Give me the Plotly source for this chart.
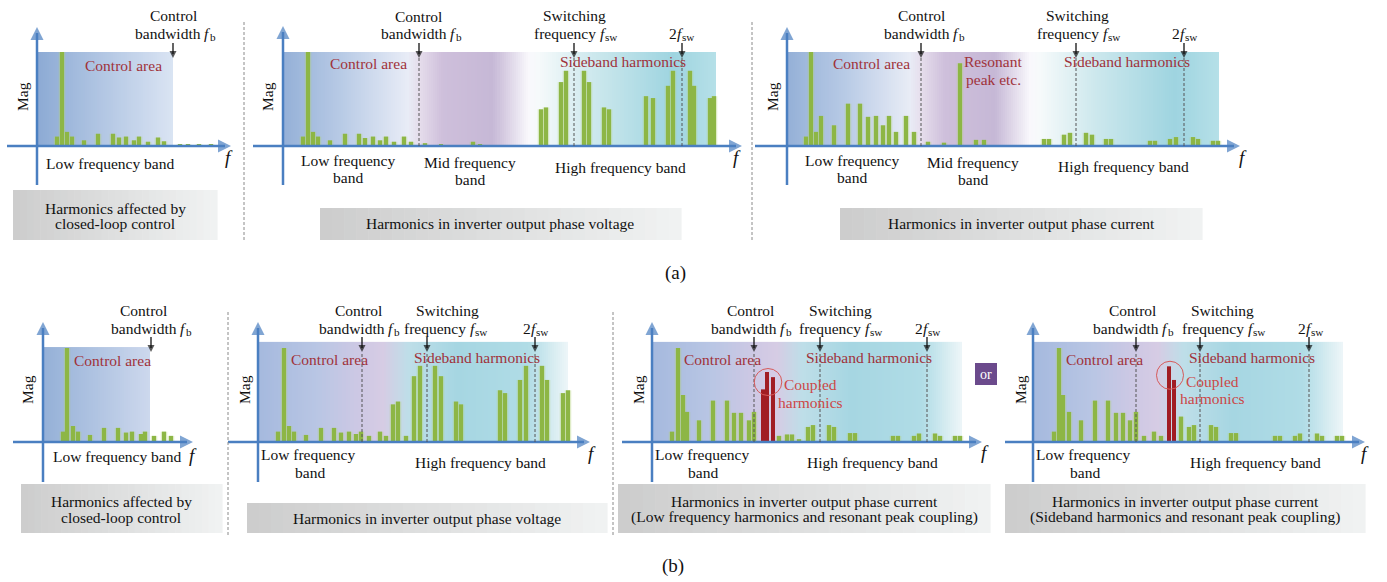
import numpy as np
import plotly.graph_objects as go

W, H = 1387, 582
U = 94.0  # pixels per unit of magnitude (fundamental = 1)
FONT = "Times New Roman, Liberation Serif, serif"

# ---------------- data ----------------
# frequency: arbitrary units measured from the Mag axis; magnitude: relative to the fundamental
a1_freq = [20, 25, 30, 35, 47, 61, 76, 82, 89, 97, 102, 111, 121, 127, 143, 151, 162, 174]
a1_mag = [0.10, 1.0, 0.15, 0.10, 0.06, 0.13, 0.13, 0.09, 0.10, 0.06, 0.10, 0.045, 0.09, 0.05,
          0.02, 0.02, 0.02, 0.02]
a1_marks = [136]

a2_freq = [20, 25, 30, 35, 47, 62, 76, 82, 90, 97, 103, 111, 121, 128, 142, 158, 190, 197,
           258, 263, 278, 283, 301, 306, 321, 326, 363, 370, 385, 390, 407, 411, 427, 431]
a2_mag = [0.10, 1.0, 0.15, 0.10, 0.06, 0.13, 0.13, 0.085, 0.10, 0.06, 0.10, 0.045, 0.10, 0.045,
          0.03, 0.015, 0.045, 0.02,
          0.39, 0.41, 0.68, 0.80, 0.80, 0.68, 0.41, 0.39, 0.53, 0.51, 0.64, 0.80, 0.80, 0.64, 0.51, 0.53]
a2_marks = [136, 291, 399]

a3_freq = [19, 24, 29, 34, 47, 61, 73, 81, 89, 96, 102, 109, 119, 127, 141, 157, 173, 189, 197,
           257, 262, 277, 283, 299, 305, 319, 324, 363, 368, 383, 389, 406, 411, 426, 431]
a3_mag = [0.10, 1.0, 0.15, 0.32, 0.22, 0.45, 0.45, 0.31, 0.32, 0.22, 0.32, 0.15, 0.32, 0.15,
          0.045, 0.035, 0.88, 0.065, 0.065,
          0.075, 0.075, 0.12, 0.14, 0.14, 0.12, 0.075, 0.075, 0.055, 0.055, 0.075, 0.095, 0.095,
          0.075, 0.055, 0.055]
a3_marks = [134, 289, 397]

b1_freq = [20, 24, 30, 35, 47, 61, 75, 83, 89, 98, 102, 111, 121, 128]
b1_mag = [0.11, 1.0, 0.17, 0.11, 0.075, 0.15, 0.15, 0.10, 0.11, 0.085, 0.11, 0.065, 0.11, 0.065]
b1_marks = [108]

b2_freq = [20, 26, 31, 36, 48, 63, 76, 83, 91, 98, 103, 111, 122, 128, 135, 140, 148,
           156, 162, 177, 183, 198, 203, 242, 247, 262, 268, 284, 289, 305, 310]
b2_mag = [0.11, 1.0, 0.17, 0.11, 0.075, 0.15, 0.15, 0.10, 0.11, 0.085, 0.11, 0.065, 0.11, 0.065,
          0.40, 0.43, 0.065, 0.70, 0.81, 0.81, 0.70, 0.43, 0.40, 0.55, 0.52, 0.66, 0.81, 0.81,
          0.66, 0.52, 0.55]
b2_marks = [104, 169, 277]

b3_freq = [20, 26, 31, 35, 47, 61, 75, 82, 89, 97, 102, 127, 135, 140, 147,
           156, 161, 177, 182, 198, 203, 241, 246, 262, 267, 283, 288, 303, 308]
b3_mag = [0.11, 1.0, 0.50, 0.32, 0.23, 0.44, 0.44, 0.31, 0.31, 0.23, 0.32, 0.065, 0.08, 0.08,
          0.03, 0.16, 0.18, 0.18, 0.16, 0.095, 0.095, 0.065, 0.065, 0.065, 0.09, 0.09, 0.065,
          0.065, 0.065]
b3_coupled_freq = [111, 115, 121]
b3_coupled_mag = [0.56, 0.745, 0.69]
b3_marks = [102, 168, 275]

b4_freq = [21, 26, 30, 36, 48, 62, 75, 83, 90, 97, 103, 111, 121, 128, 148, 156, 161, 178, 183,
           198, 203, 242, 247, 262, 267, 284, 289, 304, 309]
b4_mag = [0.11, 1.0, 0.50, 0.32, 0.23, 0.44, 0.44, 0.31, 0.31, 0.23, 0.32, 0.065, 0.11, 0.065,
          0.27, 0.16, 0.18, 0.18, 0.16, 0.095, 0.095, 0.065, 0.065, 0.065, 0.09, 0.09, 0.065,
          0.065, 0.065]
b4_coupled_freq = [136, 141]
b4_coupled_mag = [0.805, 0.66]
b4_marks = [103, 167, 276]

# ---------------- styles / layout geometry ----------------
BLUE = '#4a7fc1'
GREEN = '#8db645'
GLOW = 'rgba(175,208,115,0.40)'
RED_BAR = '#a11d23'
LABEL_RED = '#a0323a'
COUPLED_RED = '#cc4747'

stops_a1 = [(0, (140, 170, 212)), (60, (175, 196, 226)), (136, (218, 228, 243))]
stops_a2 = [(0, (148, 176, 215)), (60, (185, 203, 230)), (125, (232, 236, 246)),
            (136, (230, 222, 236)), (160, (206, 191, 219)), (210, (198, 184, 214)),
            (245, (249, 248, 252)), (255, (246, 250, 251)), (310, (205, 232, 237)),
            (390, (158, 212, 224)), (433, (182, 224, 232))]
stops_a3 = [(0, (148, 176, 215)), (60, (185, 203, 230)), (123, (232, 236, 246)),
            (134, (230, 222, 236)), (158, (206, 191, 219)), (208, (198, 184, 214)),
            (243, (249, 248, 252)), (253, (246, 250, 251)), (308, (205, 232, 237)),
            (388, (158, 212, 224)), (432, (182, 224, 232))]
stops_b1 = [(0, (148, 176, 215)), (107, (205, 216, 237))]
stops_b = [(0, (165, 185, 222)), (60, (185, 198, 228)), (100, (205, 200, 228)),
           (125, (214, 204, 228)), (150, (190, 222, 232)), (200, (166, 214, 226)),
           (270, (176, 220, 230)), (310, (238, 246, 248))]

panels = [
    dict(ox=37, oy=146, xl=7, xt=231, yt=27, yb=185, sr=136, st=1.0, freq=a1_freq, mag=a1_mag,
         cf=[], cm=[], marks=a1_marks, dashed=False, stops=stops_a1, row='a'),
    dict(ox=283, oy=146, xl=253, xt=742, yt=26, yb=185, sr=433, st=1.0, freq=a2_freq, mag=a2_mag,
         cf=[], cm=[], marks=a2_marks, dashed=True, stops=stops_a2, row='a'),
    dict(ox=787, oy=146, xl=755, xt=1240, yt=27, yb=185, sr=432, st=1.0, freq=a3_freq, mag=a3_mag,
         cf=[], cm=[], marks=a3_marks, dashed=True, stops=stops_a3, row='a'),
    dict(ox=43, oy=442, xl=13, xt=193, yt=322, yb=482, sr=107, st=1.01, freq=b1_freq, mag=b1_mag,
         cf=[], cm=[], marks=b1_marks, dashed=False, stops=stops_b1, row='b'),
    dict(ox=258, oy=442, xl=228, xt=590, yt=322, yb=482, sr=310, st=1.065, freq=b2_freq, mag=b2_mag,
         cf=[], cm=[], marks=b2_marks, dashed=True, stops=stops_b, row='b'),
    dict(ox=652, oy=442, xl=622, xt=982, yt=322, yb=482, sr=310, st=1.065, freq=b3_freq, mag=b3_mag,
         cf=b3_coupled_freq, cm=b3_coupled_mag, marks=b3_marks, dashed=True, stops=stops_b, row='b'),
    dict(ox=1033, oy=442, xl=1005, xt=1365, yt=322, yb=482, sr=310, st=1.065, freq=b4_freq, mag=b4_mag,
         cf=b4_coupled_freq, cm=b4_coupled_mag, marks=b4_marks, dashed=True, stops=stops_b, row='b'),
]
ARROW_PX = {'a': (43, 58), 'b': (337, 352)}
HEAD = 13      # blue axis arrowhead size (px)
SMALL = 7      # black marker arrowhead size (px)


def interp_colors(stops, xs):
    sx = [s[0] for s in stops]
    out = []
    for x in xs:
        c = [np.interp(x, sx, [s[1][j] for s in stops]) for j in range(3)]
        out.append('rgb(%d,%d,%d)' % tuple(int(round(v)) for v in c))
    return out


fig = go.Figure()
axes = {}
annotations = []
shapes = []

for i, p in enumerate(panels):
    k = '' if i == 0 else str(i + 1)
    xa, ya = 'x' + k, 'y' + k
    axes['xaxis' + k] = dict(domain=[0, 1], range=[-p['ox'], W - p['ox']], visible=False,
                             fixedrange=True, anchor=ya)
    axes['yaxis' + k] = dict(domain=[0, 1], range=[-(H - p['oy']) / U, p['oy'] / U], visible=False,
                             fixedrange=True, anchor=xa)
    # gradient band
    n = int(p['sr'] / 2)
    edges = np.linspace(0, p['sr'], n + 1)
    centers = (edges[:-1] + edges[1:]) / 2
    cols = interp_colors(p['stops'], centers)
    cs = [[j / (n - 1), c] for j, c in enumerate(cols)]
    fig.add_trace(go.Heatmap(x=edges, y=[0, p['st']], z=[list(range(n))], zmin=0, zmax=n - 1,
                             colorscale=cs, showscale=False, hoverinfo='skip', xaxis=xa, yaxis=ya))
    # harmonic bars
    fig.add_trace(go.Bar(x=p['freq'], y=p['mag'], width=6.5, marker=dict(color=GLOW, line_width=0),
                         hoverinfo='skip', xaxis=xa, yaxis=ya))
    fig.add_trace(go.Bar(x=p['freq'], y=p['mag'], width=4, marker=dict(color=GREEN, line_width=0),
                         hoverinfo='skip', xaxis=xa, yaxis=ya))
    if p['cf']:
        fig.add_trace(go.Bar(x=p['cf'], y=p['cm'], width=4, marker=dict(color=RED_BAR, line_width=0),
                             hoverinfo='skip', xaxis=xa, yaxis=ya))
    # axis lines
    y_top = (p['oy'] - p['yt']) / U
    shapes.append(dict(type='line', xref=xa, yref=ya, x0=0, x1=0, y0=-(p['yb'] - p['oy']) / U,
                       y1=y_top - 6 / U, line=dict(color=BLUE, width=2.5)))
    x_tip = p['xt'] - p['ox']
    shapes.append(dict(type='line', xref=xa, yref=ya, x0=p['xl'] - p['ox'], x1=x_tip - 6, y0=0, y1=0,
                       line=dict(color=BLUE, width=2.5)))
    hx, hy, hs, hc, hz = [0, x_tip], [y_top, 0], ['arrow-up', 'arrow-right'], [BLUE, BLUE], [HEAD, HEAD]
    # frequency markers (fb, fsw, 2fsw)
    s_px, t_px = ARROW_PX[p['row']]
    y_tip = (p['oy'] - t_px) / U
    for f in p['marks']:
        if p['dashed']:
            shapes.append(dict(type='line', xref=xa, yref=ya, x0=f, x1=f, y0=0, y1=y_tip,
                               line=dict(color='#555555', width=1, dash='3px,2px')))
        shapes.append(dict(type='line', xref=xa, yref=ya, x0=f, x1=f, y0=(p['oy'] - s_px) / U,
                           y1=y_tip + 4 / U, line=dict(color='#111111', width=1.3)))
        hx.append(f); hy.append(y_tip); hs.append('arrow-down'); hc.append('#111111'); hz.append(SMALL)
    fig.add_trace(go.Scatter(x=hx, y=hy, mode='markers', hoverinfo='skip', xaxis=xa, yaxis=ya,
                             marker=dict(symbol=hs, color=hc, size=hz, line_width=0)))

# circles around coupled harmonics
shapes.append(dict(type='circle', xref='x6', yref='y6', x0=116 - 13.8, x1=116 + 13.8,
                   y0=0.638 - 13.5 / U, y1=0.638 + 13.5 / U, line=dict(color='#d65a5a', width=1)))
shapes.append(dict(type='circle', xref='x7', yref='y7', x0=137 - 13.5, x1=137 + 13.5,
                   y0=0.71 - 14 / U, y1=0.71 + 14 / U, line=dict(color='#d65a5a', width=1)))


def txt(x, y, s, color='#111111', size=15.5, angle=0, xanchor='center', style='normal'):
    annotations.append(dict(x=x / W, y=1 - y / H, xref='paper', yref='paper', text=s,
                            showarrow=False, borderpad=0,
                            font=dict(family=FONT, size=size, color=color, style=style),
                            xanchor=xanchor, yanchor='middle', textangle=angle))


# Times New Roman advance widths (per 1000 em)
TW = {' ': 250, 'a': 444, 'b': 500, 'c': 444, 'd': 500, 'e': 444, 'f': 333, 'g': 500, 'h': 500,
      'i': 278, 'n': 500, 'q': 500, 'r': 333, 's': 389, 't': 278, 'u': 500, 'w': 722, 'y': 500,
      '2': 500}


def tw(s, size):
    return sum(TW[c] for c in s) * size / 1000.0


def fsub(cx, y, base, sub, size=15.5):
    """text like 'bandwidth f_b': base text + italic f + subscript, centred at cx"""
    ss = size * 0.72
    wb = tw(base, size)
    wf = 278 * size / 1000.0 + 1.2
    ws = tw(sub, ss)
    x0 = cx - (wb + wf + ws) / 2
    if base:
        txt(x0, y, base, xanchor='left', size=size)
    txt(x0 + wb, y, 'f', xanchor='left', size=size, style='italic')
    txt(x0 + wb + wf, y + 4, sub, xanchor='left', size=ss)


def fb(cx, y): fsub(cx, y, 'bandwidth ', 'b')
def fsw(cx, y): fsub(cx, y, 'frequency ', 'sw')
def f2(cx, y): fsub(cx, y, '2', 'sw')


# panel a1
txt(173, 15, 'Control'); fb(174, 33)
txt(123, 65, 'Control area', LABEL_RED)
txt(110, 163, 'Low frequency band')
# panel a2
txt(418, 16, 'Control'); fb(420, 33)
txt(574, 15, 'Switching'); fsw(575, 33); f2(681, 33)
txt(368, 63, 'Control area', LABEL_RED); txt(623, 62, 'Sideband harmonics', LABEL_RED)
txt(348, 160, 'Low frequency'); txt(348, 177, 'band')
txt(470, 162, 'Mid frequency'); txt(470, 179, 'band')
txt(620, 167, 'High frequency band')
# panel a3
txt(921, 15, 'Control'); fb(923, 33)
txt(1077, 15, 'Switching'); fsw(1078, 33); f2(1184, 33)
txt(871, 63, 'Control area', LABEL_RED); txt(1127, 62, 'Sideband harmonics', LABEL_RED)
txt(993, 62, 'Resonant', LABEL_RED); txt(993, 80, 'peak etc.', LABEL_RED)
txt(852, 160, 'Low frequency'); txt(852, 177, 'band')
txt(973, 162, 'Mid frequency'); txt(973, 179, 'band')
txt(1123, 166, 'High frequency band')
# panel b1
txt(143, 310, 'Control'); fb(150, 328)
txt(112, 360, 'Control area', LABEL_RED)
txt(117, 456, 'Low frequency band')
# panel b2
txt(358, 310, 'Control'); fb(358, 328)
txt(447, 310, 'Switching'); fsw(445, 328); f2(535, 328)
txt(329, 359, 'Control area', LABEL_RED); txt(477, 357, 'Sideband harmonics', LABEL_RED)
txt(308, 454, 'Low frequency'); txt(310, 472, 'band')
txt(480, 462, 'High frequency band')
# panel b3
txt(750, 310, 'Control'); fb(750, 328)
txt(840, 310, 'Switching'); fsw(840, 328); f2(927, 328)
txt(722, 359, 'Control area', LABEL_RED); txt(869, 357, 'Sideband harmonics', LABEL_RED)
txt(810, 384, 'Coupled', COUPLED_RED); txt(810, 402, 'harmonics', COUPLED_RED)
txt(702, 454, 'Low frequency'); txt(703, 472, 'band')
txt(872, 462, 'High frequency band')
# panel b4
txt(1132, 310, 'Control'); fb(1132, 328)
txt(1222, 310, 'Switching'); fsw(1223, 328); f2(1310, 328)
txt(1104, 359, 'Control area', LABEL_RED); txt(1252, 357, 'Sideband harmonics', LABEL_RED)
txt(1212, 381, 'Coupled', COUPLED_RED); txt(1212, 398, 'harmonics', COUPLED_RED)
txt(1083, 454, 'Low frequency'); txt(1085, 472, 'band')
txt(1255, 462, 'High frequency band')

# Mag and f labels
for (x, y) in [(23, 97), (268, 97), (773, 97), (28, 390), (245, 390), (639, 390), (1021, 390)]:
    txt(x, y, 'Mag', angle=-90)
for (x, y) in [(229, 158), (737, 158), (1243, 158), (193, 455), (592, 453), (985, 452), (1365, 453)]:
    txt(x, y, 'f', size=19, style='italic')


# captions with gray gradient boxes
def caption(x0, y0, x1, y1):
    n = 30
    for j in range(n):
        t = j / (n - 1)
        c = tuple(int(round(a + (b - a) * t)) for a, b in zip((205, 205, 205), (240, 242, 242)))
        shapes.append(dict(type='rect', xref='paper', yref='paper',
                           x0=(x0 + (x1 - x0) * j / n) / W, x1=(x0 + (x1 - x0) * (j + 1) / n + 0.6) / W,
                           y0=1 - y1 / H, y1=1 - y0 / H, fillcolor='rgb(%d,%d,%d)' % c,
                           line_width=0, layer='below'))


caption(13, 190, 217, 240)
txt(115, 208, 'Harmonics affected by'); txt(115, 224, 'closed-loop control')
caption(320, 208, 681, 240)
txt(500, 224, 'Harmonics in inverter output phase voltage')
caption(840, 208, 1202, 240)
txt(1021, 224, 'Harmonics in inverter output phase current')
caption(21, 484, 222, 533)
txt(121, 501, 'Harmonics affected by'); txt(121, 517, 'closed-loop control')
caption(247, 503, 607, 533)
txt(427, 518, 'Harmonics in inverter output phase voltage')
caption(618, 484, 990, 533)
txt(804, 501, 'Harmonics in inverter output phase current')
txt(804, 517, '(Low frequency harmonics and resonant peak coupling)')
caption(1005, 484, 1365, 533)
txt(1185, 501, 'Harmonics in inverter output phase current')
txt(1185, 517, '(Sideband harmonics and resonant peak coupling)')

# "or" box
shapes.append(dict(type='rect', xref='paper', yref='paper', x0=975 / W, x1=997 / W,
                   y0=1 - 385 / H, y1=1 - 363 / H, fillcolor='#6b4a8c', line_width=0))
txt(986, 374, 'or', color='white', size=14)

# separators
for (x, y0, y1) in [(244, 22, 242), (752, 22, 242), (228, 312, 535), (613, 312, 535)]:
    shapes.append(dict(type='line', xref='paper', yref='paper', x0=x / W, x1=x / W,
                       y0=1 - y0 / H, y1=1 - y1 / H,
                       line=dict(color='#8a8a8a', width=1, dash='3px,2px')))

txt(675, 273, '(a)', size=19)
txt(673, 566, '(b)', size=19)

fig.update_layout(width=W, height=H, autosize=False, margin=dict(l=0, r=0, t=0, b=0, pad=0),
                  paper_bgcolor='white', plot_bgcolor='rgba(0,0,0,0)', showlegend=False,
                  barmode='overlay', font=dict(family=FONT), annotations=annotations,
                  shapes=shapes, **axes)
fig.write_html("out.html", config={'displayModeBar': False},
               post_script="document.body.style.margin='0px';")
